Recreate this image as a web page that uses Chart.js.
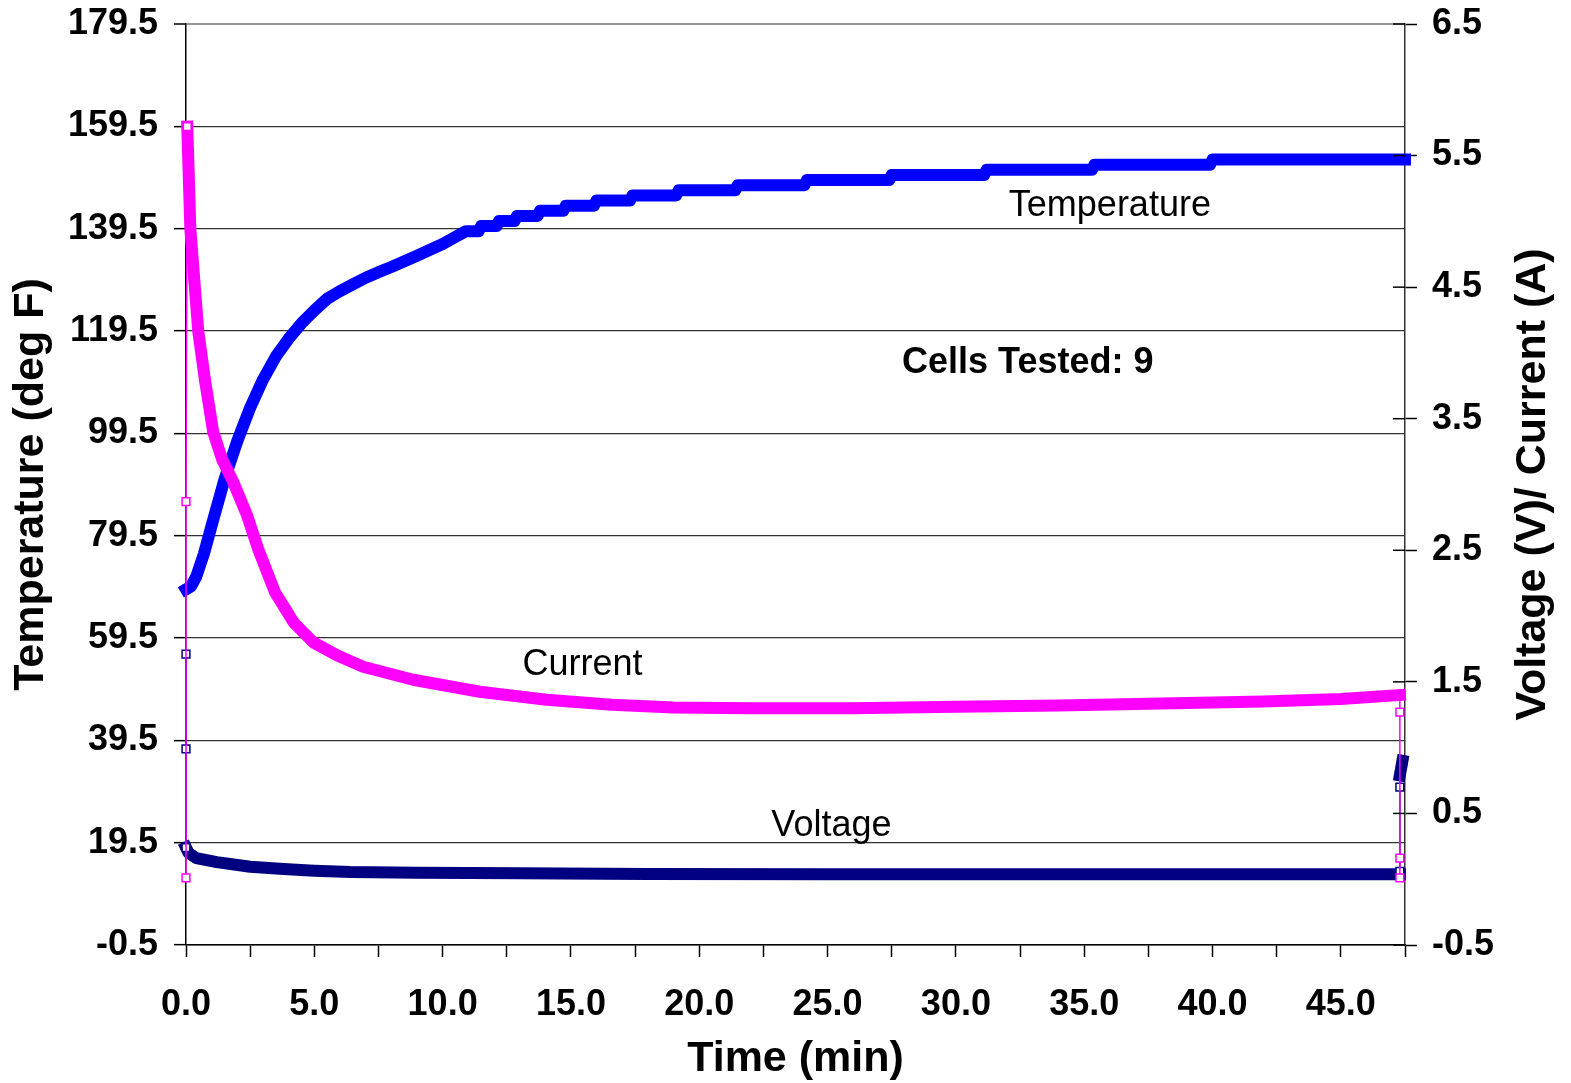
<!DOCTYPE html>
<html>
<head>
<meta charset="utf-8">
<script src="https://cdn.jsdelivr.net/npm/chart.js"></script>
<style>
  body { margin: 0; background: #fff; }
  canvas { display: block; }
</style>
</head>
<body>
<canvas id="chart" width="1571" height="1083"></canvas>
<script>
// time (min) / temperature (deg F) - left axis
const timeTemp = [0, 0.2, 0.4, 0.7, 1.0, 1.5, 2.0, 2.5, 3.0, 3.5, 4.0, 4.5, 5.0, 5.5, 6.0, 6.5, 7.0, 7.5, 8.0, 9.0, 10.0, 10.9,
  11.4, 11.5, 12.1, 12.2, 12.8, 12.9, 13.7, 13.8, 14.7, 14.8, 15.9, 16.0, 17.3, 17.4, 19.1, 19.2,
  21.4, 21.5, 24.1, 24.2, 27.4, 27.5, 31.1, 31.2, 35.3, 35.4, 39.9, 40.0, 47.5];
const temperature = [69, 69.6, 71.5, 76, 81.5, 90.5, 98, 104.5, 110, 114.5, 118, 121, 123.5, 125.8, 127.3, 128.6, 129.9, 131, 132, 134.2, 136.5, 139,
  139, 140, 140, 141, 141, 142, 142, 143, 143, 144, 144, 145, 145, 146, 146, 147,
  147, 148, 148, 149, 149, 150, 150, 151, 151, 152, 152, 153, 153];

// current (A) - right axis
const timeCurrent = [0, 0, 0.05, 0.17, 0.48, 0.75, 1.06, 1.41, 1.84, 2.39, 2.81, 3.47, 4.2, 4.96, 5.9, 6.9, 8.85, 11.45, 14.05, 16.6,
  19, 22, 26, 30, 34, 38, 42, 45, 47.3, 47.3, 47.3, 47.3];
const current = [0.01, 2.87, 5.72, 4.94, 4.16, 3.78, 3.40, 3.19, 3.02, 2.76, 2.51, 2.18, 1.95, 1.80, 1.70, 1.615, 1.516, 1.425, 1.364, 1.326,
  1.305, 1.30, 1.30, 1.31, 1.32, 1.335, 1.35, 1.37, 1.40, 1.27, 0.16, 0.01];

// voltage (V) - right axis
const timeVolt = [0, 0, 0, 0.1, 0.4, 1.2, 2.5, 3.8, 5, 6.4, 9, 13, 18, 25, 47.3, 47.3, 47.3, 47.3, 47.4];
const voltage = [1.71, 0.99, 0.24, 0.2, 0.16, 0.13, 0.095, 0.078, 0.065, 0.055, 0.05, 0.045, 0.04, 0.038, 0.038, 0.06, 0.70, 0.79, 0.90];

const timeTicks = [0, 2.5, 5, 7.5, 10, 12.5, 15, 17.5, 20, 22.5, 25, 27.5, 30, 32.5, 35, 37.5, 40, 42.5, 45, 47.5];
const tempTicks = [-0.5, 19.5, 39.5, 59.5, 79.5, 99.5, 119.5, 139.5, 159.5, 179.5];
const voltTicks = [-0.5, 0.5, 1.5, 2.5, 3.5, 4.5, 5.5, 6.5];

const notes = [
  { text: 'Temperature', x: 36.0, y: 143.9, bold: false },
  { text: 'Current', x: 15.45, y: 54.2, bold: false },
  { text: 'Voltage', x: 25.15, y: 22.8, bold: false },
  { text: 'Cells Tested: 9', x: 32.8, y: 113.2, bold: true }
];

const FONT = "'Liberation Sans', Arial, sans-serif";
Chart.defaults.font.family = FONT;
Chart.defaults.color = '#000';

const pts = (xs, ys) => xs.map((x, i) => ({ x: x, y: ys[i] }));
const JUMP = 0.06;

// markers only on the straight up/down jumps, not at the ends of the thick runs
function markerRadius(c) {
  const d = c.dataset.data, i = c.dataIndex;
  const dx = j => d[j] ? Math.abs(d[j].x - d[i].x) : null;
  const a = dx(i - 1), b = dx(i + 1);
  const near = (a !== null && a < JUMP) || (b !== null && b < JUMP);
  const thick = (a !== null && a >= JUMP) || (b !== null && b >= JUMP);
  return near && (!thick || i === 2) ? 5.5 : 0;
}

function seg(color) {
  return {
    borderColor: color,
    borderWidth: c => Math.abs(c.p1.parsed.x - c.p0.parsed.x) < JUMP ? 1.5 : 12,
    borderCapStyle: 'square',
    borderJoinStyle: 'round'
  };
}

function series(label, xs, ys, color, axis) {
  return {
    label: label,
    data: pts(xs, ys),
    yAxisID: axis,
    borderColor: color,
    borderWidth: 12,
    segment: seg(color),
    pointStyle: 'rect',
    pointRadius: markerRadius,
    pointBorderWidth: 1.5,
    pointBorderColor: color,
    pointBackgroundColor: '#fff',
    clip: false
  };
}

const innerTicks = {
  id: 'innerTicks',
  afterDatasetsDraw(chart) {
    const s = chart.scales.y2, c = chart.ctx;
    c.save();
    c.strokeStyle = '#000';
    c.lineWidth = 1.5;
    s.ticks.forEach(t => {
      const y = s.getPixelForValue(t.value);
      c.beginPath();
      c.moveTo(s.left - 12, y);
      c.lineTo(s.left, y);
      c.stroke();
    });
    c.restore();
  }
};

const textNotes = {
  id: 'textNotes',
  afterDraw(chart) {
    const c = chart.ctx, sx = chart.scales.x, sy = chart.scales.y;
    c.save();
    c.fillStyle = '#000';
    c.textAlign = 'center';
    c.textBaseline = 'middle';
    notes.forEach(n => {
      c.font = (n.bold ? 'bold ' : '') + '36px ' + FONT;
      c.fillText(n.text, sx.getPixelForValue(n.x), sy.getPixelForValue(n.y));
    });
    // right axis title, reads bottom to top
    c.font = 'bold 43px ' + FONT;
    c.translate(1533, (chart.chartArea.top + chart.chartArea.bottom) / 2);
    c.rotate(-Math.PI / 2);
    c.fillText('Voltage (V)/ Current (A)', 0, 0);
    c.restore();
  }
};

const tickFont = { size: 36, weight: 'bold' };

new Chart(document.getElementById('chart'), {
  type: 'line',
  data: {
    datasets: [
      series('Current', timeCurrent, current, '#ff00ff', 'y2'),
      series('Temperature', timeTemp, temperature, '#0000ff', 'y'),
      series('Voltage', timeVolt, voltage, '#000080', 'y2')
    ]
  },
  options: {
    responsive: false,
    animation: false,
    events: [],
    layout: { autoPadding: false, padding: { top: 24, left: 0, right: 0, bottom: 0 } },
    plugins: {
      legend: { display: false },
      tooltip: { enabled: false }
    },
    scales: {
      x: {
        type: 'linear',
        min: 0,
        max: 47.5,
        afterBuildTicks: s => { s.ticks = timeTicks.map(v => ({ value: v })); },
        afterFit: s => { s.height = 138; s.paddingLeft = 0; s.paddingRight = 0; },
        ticks: {
          autoSkip: false,
          maxRotation: 0,
          padding: 26,
          font: tickFont,
          callback: v => v % 5 === 0 ? v.toFixed(1) : ''
        },
        grid: { drawOnChartArea: false, tickLength: 12, tickColor: '#000', tickWidth: 1.5 },
        border: { color: '#000', width: 1.5 },
        title: { display: true, text: 'Time (min)', font: { size: 43, weight: 'bold', lineHeight: 1.1 }, padding: { top: 0, bottom: 0 } }
      },
      y: {
        position: 'left',
        min: -0.5,
        max: 179.5,
        afterBuildTicks: s => { s.ticks = tempTicks.map(v => ({ value: v })); },
        afterFit: s => { s.width = 186; s.paddingTop = 0; s.paddingBottom = 0; },
        ticks: {
          padding: 16,
          font: tickFont,
          callback: v => v.toFixed(1)
        },
        grid: {
          color: c => c.tick && c.tick.value === 179.5 ? '#999' : '#333',
          lineWidth: c => c.tick && c.tick.value === 179.5 ? 2 : 1.3,
          tickLength: 12,
          tickColor: '#000',
          tickWidth: 1.5
        },
        border: { color: '#000', width: 1.5 },
        title: { display: true, text: 'Temperature (deg F)', font: { size: 43, weight: 'bold' }, padding: { top: 5, bottom: 0 } }
      },
      y2: {
        position: 'right',
        min: -0.5,
        max: 6.5,
        afterBuildTicks: s => { s.ticks = voltTicks.map(v => ({ value: v })); },
        afterFit: s => { s.width = 166; s.paddingTop = 0; s.paddingBottom = 0; },
        ticks: {
          padding: 15,
          font: tickFont,
          callback: v => v.toFixed(1)
        },
        grid: { drawOnChartArea: false, tickLength: 12, tickColor: '#000', tickWidth: 1.5 },
        border: { color: '#333', width: 1.5 }
      }
    }
  },
  plugins: [innerTicks, textNotes]
});
</script>
</body>
</html>
